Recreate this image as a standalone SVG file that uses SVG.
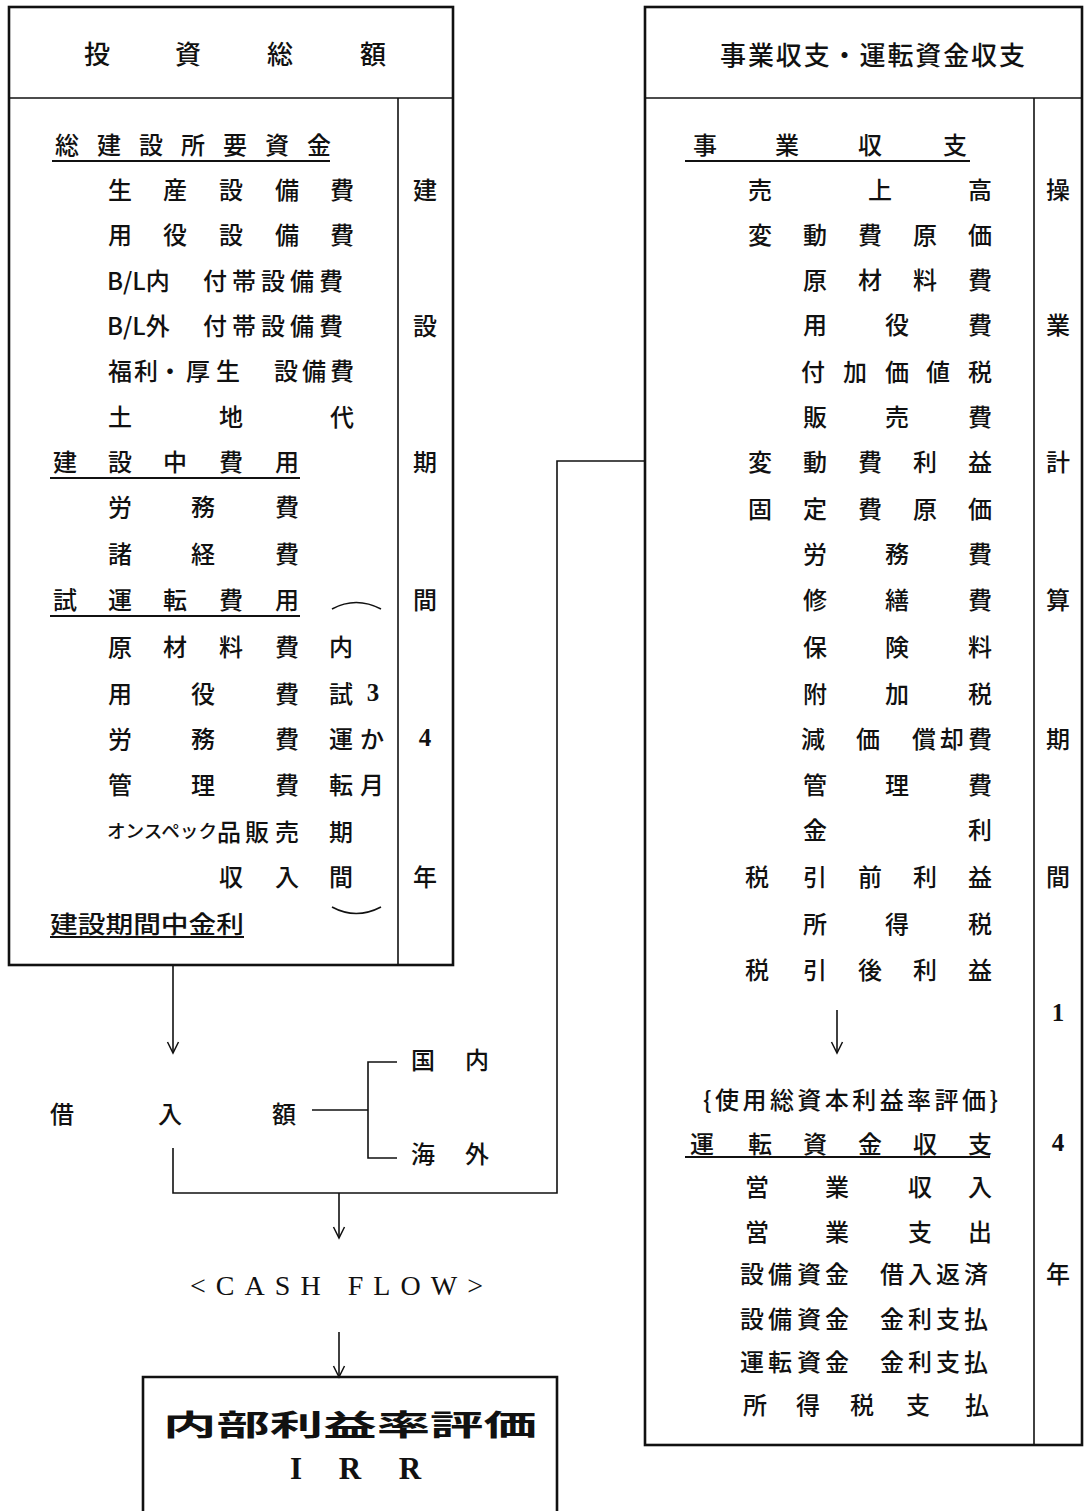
<svg xmlns="http://www.w3.org/2000/svg" width="1086" height="1511" viewBox="0 0 1086 1511">
<defs>
<style>
.t{font-family:"Noto Sans CJK JP","Noto Sans CJK SC",sans-serif;font-size:24px;font-weight:500;fill:#111;text-anchor:middle;dominant-baseline:central}
.s{text-anchor:start}
.h{font-size:26px}
.n{font-family:"Liberation Serif",serif;font-size:25px;font-weight:bold}
.box{fill:none;stroke:#111;stroke-width:2.6}
.div{stroke:#111;stroke-width:1.6;fill:none}
.ul{stroke:#111;stroke-width:2}
.conn{fill:none;stroke:#111;stroke-width:1.6}
.arr{marker-end:url(#ah)}
</style>
<marker id="ah" viewBox="0 0 12 12" refX="11" refY="6" markerWidth="12" markerHeight="12" markerUnits="userSpaceOnUse" orient="auto" overflow="visible">
<path d="M0,0.5 L11,6 L0,11.5" fill="none" stroke="#111" stroke-width="1.5"/>
</marker>
</defs>
<rect width="1086" height="1511" fill="#fff"/>

<g id="investment-total">
<rect class="box" x="9" y="7" width="444" height="958"/>
<line class="div" x1="9" y1="98" x2="453" y2="98"/>
<line class="div" x1="398" y1="98" x2="398" y2="965"/>
<text class="t h" x="97 188 280 373" y="52">投資総額</text>
<text class="t" x="67 109 151 193 235 277 319" y="143">総建設所要資金</text>
<line class="ul" x1="52" y1="161" x2="330" y2="161"/>
<text class="t" x="120 175 231 287 342" y="188">生産設備費</text>
<text class="t" x="120 175 231 287 342" y="233">用役設備費</text>
<text class="t s" x="107" y="279">B/L内</text>
<text class="t" x="215 244 273 302 331" y="279">付帯設備費</text>
<text class="t s" x="107" y="324">B/L外</text>
<text class="t" x="215 244 273 302 331" y="324">付帯設備費</text>
<text class="t" x="120 146 170 198 228 286 314 342" y="369">福利・厚生設備費</text>
<text class="t" x="120 231 342" y="415">土地代</text>
<text class="t" x="65 120 175 231 287" y="460">建設中費用</text>
<line class="ul" x1="50" y1="478" x2="300" y2="478"/>
<text class="t" x="120 203 287" y="505">労務費</text>
<text class="t" x="120 203 287" y="552">諸経費</text>
<text class="t" x="65 120 175 231 287" y="598">試運転費用</text>
<line class="ul" x1="50" y1="616" x2="300" y2="616"/>
<text class="t" x="120 175 231 287" y="645">原材料費</text>
<text class="t" x="120 203 287" y="692">用役費</text>
<text class="t" x="120 203 287" y="737">労務費</text>
<text class="t" x="120 203 287" y="783">管理費</text>
<text class="t s" x="107" y="830" style="font-size:18px" textLength="110" lengthAdjust="spacingAndGlyphs">オンスペック</text>
<text class="t" x="229 257 287" y="830">品販売</text>
<text class="t" x="231 287" y="875">収入</text>
<text class="t s" x="50" y="922" textLength="194" lengthAdjust="spacingAndGlyphs">建設期間中金利</text>
<line class="ul" x1="50" y1="937" x2="244" y2="937"/>
<path class="div" d="M332,609 Q356,596 381,609"/>
<path class="div" d="M332,907 Q356,920 381,907"/>
<text class="t" x="341" y="645">内</text>
<text class="t" x="341" y="692">試</text>
<text class="t n" x="373" y="692">3</text>
<text class="t" x="341 372" y="737">運か</text>
<text class="t" x="341 372" y="783">転月</text>
<text class="t" x="341" y="830">期</text>
<text class="t" x="341" y="875">間</text>
<text class="t" x="425" y="188">建</text>
<text class="t" x="425" y="324">設</text>
<text class="t" x="425" y="460">期</text>
<text class="t" x="425" y="598">間</text>
<text class="t n" x="425" y="737">4</text>
<text class="t" x="425" y="875">年</text>
</g>

<g id="business-balance">
<rect class="box" x="645" y="7" width="437" height="1438"/>
<line class="div" x1="645" y1="98" x2="1082" y2="98"/>
<line class="div" x1="1034" y1="98" x2="1034" y2="1445"/>
<text class="t s" x="720" y="53" style="font-size:26px" textLength="305" lengthAdjust="spacing">事業収支・運転資金収支</text>
<text class="t" x="705 787 870 955" y="143">事業収支</text>
<line class="ul" x1="685" y1="161" x2="970" y2="161"/>
<text class="t" x="760 880 980" y="188">売上高</text>
<text class="t" x="760 815 870 925 980" y="233">変動費原価</text>
<text class="t" x="815 870 925 980" y="278">原材料費</text>
<text class="t" x="815 897 980" y="323">用役費</text>
<text class="t" x="813 855 897 938 980" y="370">付加価値税</text>
<text class="t" x="815 897 980" y="415">販売費</text>
<text class="t" x="760 815 870 925 980" y="460">変動費利益</text>
<text class="t" x="760 815 870 925 980" y="507">固定費原価</text>
<text class="t" x="815 897 980" y="552">労務費</text>
<text class="t" x="815 897 980" y="598">修繕費</text>
<text class="t" x="815 897 980" y="645">保険料</text>
<text class="t" x="815 897 980" y="692">附加税</text>
<text class="t" x="813 868 924 952 980" y="737">減価償却費</text>
<text class="t" x="815 897 980" y="783">管理費</text>
<text class="t" x="815 980" y="828">金利</text>
<text class="t" x="757 815 870 925 980" y="875">税引前利益</text>
<text class="t" x="815 897 980" y="922">所得税</text>
<text class="t" x="757 815 870 925 980" y="968">税引後利益</text>
<line class="conn arr" x1="837" y1="1010" x2="837" y2="1053"/>
<text class="t s" x="703" y="1098" textLength="295" lengthAdjust="spacing">{使用総資本利益率評価}</text>
<text class="t" x="702 760 815 870 925 980" y="1142">運転資金収支</text>
<line class="ul" x1="685" y1="1157" x2="990" y2="1157"/>
<text class="t" x="757 837 920 980" y="1185">営業収入</text>
<text class="t" x="757 837 920 980" y="1230">営業支出</text>
<text class="t" x="752 780 809 837 892 920 948 976" y="1272">設備資金借入返済</text>
<text class="t" x="752 780 809 837 892 920 948 976" y="1317">設備資金金利支払</text>
<text class="t" x="752 780 809 837 892 920 948 976" y="1360">運転資金金利支払</text>
<text class="t" x="755 808 862 918 977" y="1403">所得税支払</text>
<text class="t" x="1058" y="188">操</text>
<text class="t" x="1058" y="323">業</text>
<text class="t" x="1058" y="460">計</text>
<text class="t" x="1058" y="598">算</text>
<text class="t" x="1058" y="737">期</text>
<text class="t" x="1058" y="875">間</text>
<text class="t n" x="1058" y="1012">1</text>
<text class="t n" x="1058" y="1142">4</text>
<text class="t" x="1058" y="1272">年</text>
</g>

<g id="borrowing">
<text class="t" x="62 170 284" y="1112">借入額</text>
</g>
<g id="domestic">
<text class="t" x="423 477" y="1058">国内</text>
</g>
<g id="overseas">
<text class="t" x="423 477" y="1152">海外</text>
</g>
<g id="cash-flow">
<text class="t s" x="190" y="1285" style="font-family:'Liberation Serif',serif;font-size:28px;font-weight:normal" textLength="293" lengthAdjust="spacing">&lt;CASH FLOW&gt;</text>
</g>
<g id="irr">
<path class="box" d="M143,1515 V1377 H557 V1515"/>
<text class="t s" x="163" y="1423" style="font-size:29px;font-weight:bold" textLength="374" lengthAdjust="spacingAndGlyphs">内部利益率評価</text>
<text class="t" x="296 350 410" y="1468" style="font-family:'Liberation Serif',serif;font-size:31px;font-weight:bold">IRR</text>
</g>

<g id="connectors">
<line class="conn arr" x1="173" y1="966" x2="173" y2="1053"/>
<line class="conn" x1="312" y1="1110" x2="368" y2="1110"/>
<path class="conn" d="M397,1062 H368 V1158 H397"/>
<path class="conn" d="M173,1148 V1193 H557 V461 H645"/>
<line class="conn arr" x1="339" y1="1193" x2="339" y2="1238"/>
<line class="conn arr" x1="339" y1="1332" x2="339" y2="1377"/>
</g>
</svg>
